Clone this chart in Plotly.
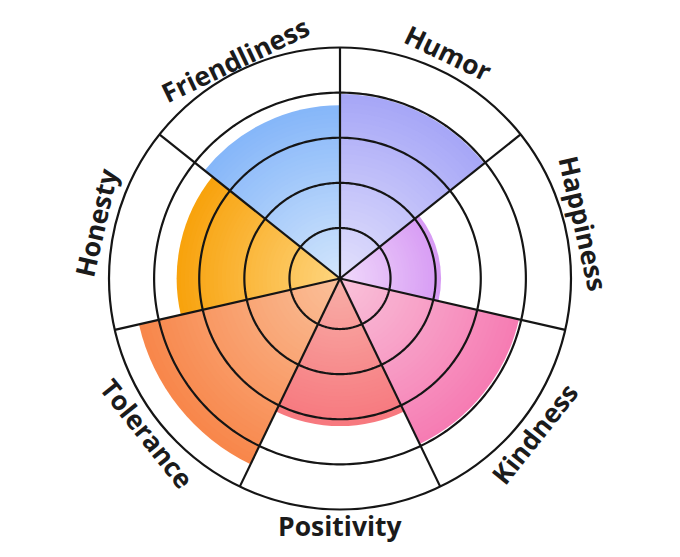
import numpy as np
import plotly.graph_objects as go

categories = ["Humor", "Happiness", "Kindness", "Positivity", "Tolerance", "Honesty", "Friendliness"]
values = [3.97, 2.12, 3.95, 3.15, 4.45, 3.5, 3.72]
outer_colors = ["#A6A6F7", "#D79AF4", "#F67BB3", "#F7787E", "#F8864A", "#F8A20C", "#85B6F9"]
inner_colors = ["#E3E1FC", "#F0DAFB", "#F9C3DA", "#F8AFA8", "#FAC09A", "#FED57F", "#D3E6FC"]
ring_levels = [1, 2, 3, 4, 5]

# page has an 8px body margin, so the figure is 16px smaller than the window
W, H = 664, 541
PLOT = 463
ML, MT = 100.5, 39
MR = W - ML - PLOT
MB = H - MT - PLOT
R_MIN, R_MAX = -0.12, 5
n = len(categories)
step = 360 / n
theta_centers = [step * i + step / 2 for i in range(n)]
boundaries = [step * i for i in range(n)]


def hex2rgb(h):
    h = h.lstrip("#")
    return np.array([int(h[i:i + 2], 16) for i in (0, 2, 4)], dtype=float)


def mix(c1, c2, t):
    c = hex2rgb(c1) * (1 - t) + hex2rgb(c2) * t
    return "rgb(%d,%d,%d)" % tuple(np.round(c).astype(int))


fig = go.Figure()
N = 40
for k in range(N - 1, -1, -1):
    rs, cols = [], []
    for i in range(n):
        total = values[i] - R_MIN
        rs.append(total * (k + 1) / N)
        cols.append(mix(inner_colors[i], outer_colors[i], (k + 0.5) / N))
    fig.add_trace(go.Barpolar(
        r=rs, base=[R_MIN] * n, theta=theta_centers, width=[step] * n,
        marker=dict(color=cols, line=dict(width=0)),
        hoverinfo="skip", showlegend=False,
    ))

ang = np.linspace(0, 360, 361)
for lv in ring_levels[:-1]:
    fig.add_trace(go.Scatterpolar(
        r=[lv] * len(ang), theta=ang, mode="lines",
        line=dict(color="#151515", width=2.2), hoverinfo="skip", showlegend=False,
    ))
for b in boundaries:
    fig.add_trace(go.Scatterpolar(
        r=[R_MIN, R_MAX], theta=[b, b], mode="lines",
        line=dict(color="#151515", width=2.2), hoverinfo="skip", showlegend=False,
    ))

fig.update_layout(
    width=W, height=H,
    margin=dict(l=ML, r=MR, t=MT, b=MB, pad=0),
    paper_bgcolor="white",
    barmode="overlay",
    polar=dict(
        bgcolor="white",
        domain=dict(x=[0, 1], y=[0, 1]),
        radialaxis=dict(range=[R_MIN, R_MAX], visible=False, showgrid=False),
        angularaxis=dict(
            direction="clockwise", rotation=90,
            tickmode="array", tickvals=boundaries,
            showticklabels=False, ticks="", showgrid=False,
            showline=True, linecolor="#151515", linewidth=2.2,
            layer="above traces",
        ),
    ),
)

cx = ML + PLOT / 2
cy = MT + PLOT / 2
label_radii = [250, 250, 249, 247, 248, 251, 243]
for i, cat in enumerate(categories):
    phi = 90 - theta_centers[i]
    rad = np.deg2rad(phi)
    px = cx + label_radii[i] * np.cos(rad)
    py = cy - label_radii[i] * np.sin(rad)
    ta = 90 - phi if np.sin(rad) > -0.3 else -90 - phi
    fig.add_annotation(
        x=(px - ML) / PLOT, y=(H - MB - py) / PLOT,
        xref="paper", yref="paper", text=cat, showarrow=False,
        textangle=ta, xanchor="center", yanchor="middle",
        font=dict(family="Open Sans", size=26.5, color="#1b1b1b", weight="bold"),
    )

fig.write_html("out.html")
